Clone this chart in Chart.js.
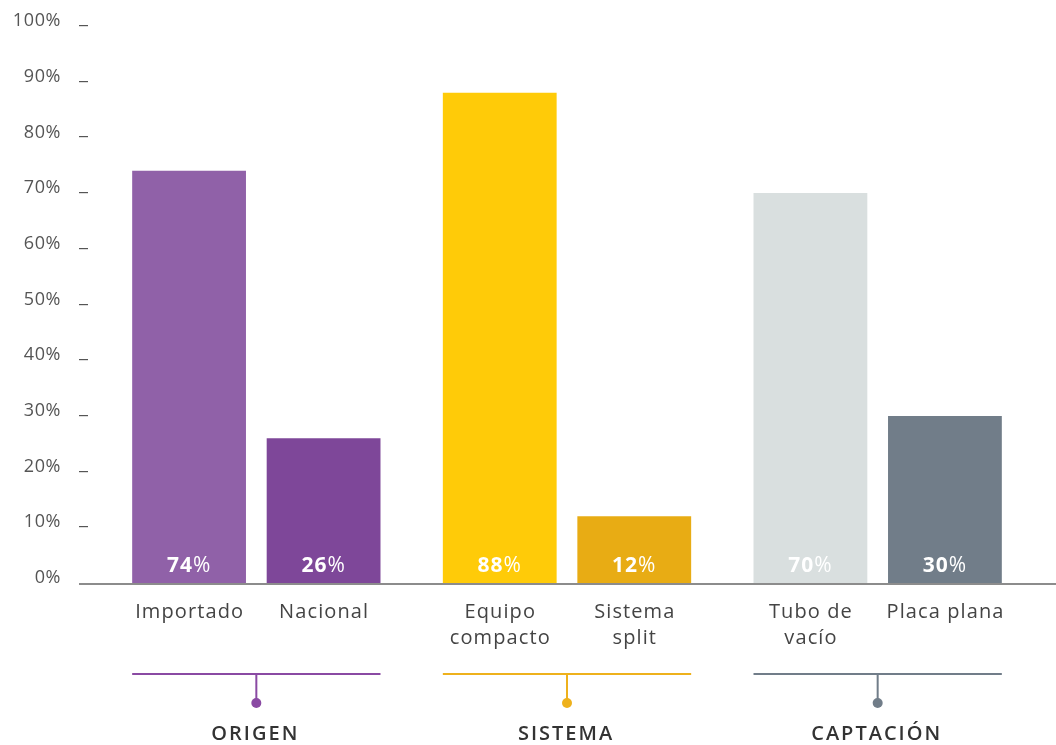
<!DOCTYPE html>
<html>
<head>
<meta charset="utf-8">
<script src="https://cdn.jsdelivr.net/npm/chart.js@4"></script>
<style>
  html, body { margin: 0; padding: 0; background: #fff; }
  #wrap { width: 1056px; height: 745px; position: relative; }
</style>
</head>
<body>
<div id="wrap"><canvas id="chart"></canvas></div>
<script>
// data
const groups = ['ORIGEN', 'SISTEMA', 'CAPTACIÓN'];
const firstLabels = [['Importado'], ['Equipo', 'compacto'], ['Tubo de', 'vacío']];
const secondLabels = [['Nacional'], ['Sistema', 'split'], ['Placa plana']];
const firstValues = [74, 88, 70];
const secondValues = [26, 12, 30];
const yTicks = [0, 10, 20, 30, 40, 50, 60, 70, 80, 90, 100];

// colours
const firstColors = ['#9061a8', '#ffcb08', '#d9dfdf'];
const secondColors = ['#7e4799', '#e8ac14', '#717d89'];
const groupColors = ['#8a4aa3', '#eeb11c', '#717d89'];

const FONT = "'Open Sans', sans-serif";

// centred text with letter spacing (canvas adds trailing space, so shift back)
function spacedText(ctx, txt, x, y, sp) {
  ctx.letterSpacing = sp + 'px';
  ctx.fillText(txt, x + sp / 2, y);
  ctx.letterSpacing = '0px';
}

const decor = {
  id: 'decor',
  afterDatasetsDraw(chart) {
    const ctx = chart.ctx;
    const y = chart.scales.y;
    const base = y.getPixelForValue(0);
    ctx.save();

    // y ticks: label + short dash
    ctx.font = '18px ' + FONT;
    ctx.fillStyle = '#555';
    ctx.textAlign = 'right';
    ctx.textBaseline = 'middle';
    yTicks.forEach(v => {
      const py = y.getPixelForValue(v);
      ctx.letterSpacing = '0.6px';
      ctx.fillText(v + '%', 61, py - 5);
      ctx.letterSpacing = '0px';
      if (v > 0) ctx.fillRect(79, Math.round(py) - 1, 9, 1.2);
    });

    // baseline
    ctx.strokeStyle = '#8c8c8c';
    ctx.lineWidth = 2;
    ctx.beginPath();
    ctx.moveTo(79, base + 1);
    ctx.lineTo(1056, base + 1);
    ctx.stroke();

    const m0 = chart.getDatasetMeta(0).data;
    const m1 = chart.getDatasetMeta(1).data;
    const vals = [firstValues, secondValues];
    const labs = [firstLabels, secondLabels];

    [m0, m1].forEach((bars, d) => {
      bars.forEach((bar, i) => {
        // value label inside bar
        const num = String(vals[d][i]);
        ctx.textBaseline = 'alphabetic';
        ctx.letterSpacing = '1px';
        ctx.font = 'bold 21px ' + FONT;
        const w1 = ctx.measureText(num).width;
        ctx.font = '21px ' + FONT;
        const w2 = ctx.measureText('%').width;
        const sx = bar.x - (w1 + w2) / 2;
        ctx.fillStyle = '#fff';
        ctx.textAlign = 'left';
        ctx.font = 'bold 21px ' + FONT;
        ctx.fillText(num, sx, base - 11);
        ctx.font = '21px ' + FONT;
        ctx.fillText('%', sx + w1, base - 11);
        ctx.letterSpacing = '0px';

        // category label
        ctx.fillStyle = '#444';
        ctx.textAlign = 'center';
        ctx.textBaseline = 'middle';
        ctx.font = '20px ' + FONT;
        labs[d][i].forEach((line, k) => {
          spacedText(ctx, line, bar.x, 612 + k * 26, 1.1);
        });
      });
    });

    // group brackets
    groups.forEach((g, i) => {
      const a = m0[i], b = m1[i];
      const left = a.x - a.width / 2;
      const right = b.x + b.width / 2;
      const cx = (left + right) / 2;
      ctx.strokeStyle = groupColors[i];
      ctx.fillStyle = groupColors[i];
      ctx.lineWidth = 2;
      ctx.beginPath();
      ctx.moveTo(left, 674);
      ctx.lineTo(right, 674);
      ctx.moveTo(cx, 674);
      ctx.lineTo(cx, 700);
      ctx.stroke();
      ctx.beginPath();
      ctx.arc(cx, 703, 5, 0, Math.PI * 2);
      ctx.fill();

      ctx.fillStyle = '#333';
      ctx.font = '600 20px ' + FONT;
      ctx.textAlign = 'center';
      ctx.textBaseline = 'middle';
      spacedText(ctx, g, cx - 2, 734, 2);
    });

    ctx.restore();
  }
};

new Chart(document.getElementById('chart'), {
  type: 'bar',
  data: {
    labels: groups,
    datasets: [
      { data: firstValues, backgroundColor: firstColors, borderWidth: 0 },
      { data: secondValues, backgroundColor: secondColors, borderWidth: 0 }
    ]
  },
  options: {
    responsive: true,
    maintainAspectRatio: false,
    animation: false,
    layout: { padding: { left: 101, right: 23, top: 26, bottom: 162 } },
    categoryPercentage: 0.866,
    barPercentage: 0.846,
    plugins: { legend: { display: false }, tooltip: { enabled: false } },
    scales: {
      x: { display: false },
      y: { display: false, min: 0, max: 100 }
    }
  },
  plugins: [decor]
});
</script>
</body>
</html>
